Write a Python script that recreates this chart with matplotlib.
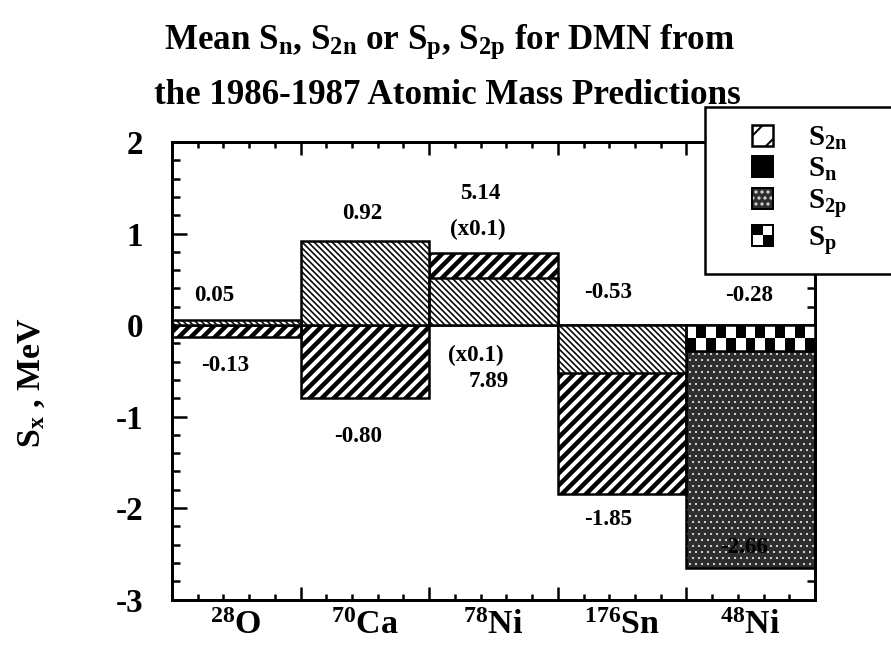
import numpy as np
import matplotlib
matplotlib.use('Agg')
import matplotlib.pyplot as plt
from matplotlib.patches import Rectangle
from matplotlib.legend_handler import HandlerBase

# data (MeV)
nuclides = ['$^{28}$O', '$^{70}$Ca', '$^{78}$Ni', '$^{176}$Sn', '$^{48}$Ni']
single = [0.05, 0.92, 0.514, -0.53, -0.28]    # S_n  (S_p for 48Ni)
double = [-0.13, -0.80, 0.789, -1.85, -2.66]  # S_2n (S_2p for 48Ni)
proton_rich = [False, False, False, False, True]

# value labels written on the chart
labels = ['0.05', '-0.13', '0.92', '-0.80', '5.14', '(x0.1)', '(x0.1)', '7.89',
          '-0.53', '-1.85', '-0.28', '-2.66']
label_x = [0.33, 0.41, 1.48, 1.45, 2.40, 2.38, 2.36, 2.46, 3.39, 3.39, 4.49, 4.45]
label_y = [0.32, -0.44, 1.22, -1.22, 1.44, 1.04, -0.33, -0.62, 0.35, -2.13, 0.32, -2.43]

plt.rcParams['font.family'] = ['Liberation Serif', 'DejaVu Serif']
plt.rcParams['font.weight'] = 'bold'
plt.rcParams['axes.labelweight'] = 'bold'
plt.rcParams['mathtext.fontset'] = 'custom'
plt.rcParams['mathtext.rm'] = 'Liberation Serif:bold'
plt.rcParams['mathtext.it'] = 'Liberation Serif:bold'
plt.rcParams['mathtext.bf'] = 'Liberation Serif:bold'
plt.rcParams['hatch.linewidth'] = 2.0

DPI = 72
fig = plt.figure(figsize=(891 / DPI, 652 / DPI), dpi=DPI)
ax = fig.add_axes([172 / 891, 1 - 599.5 / 652, (815 - 172) / 891, (599.5 - 142) / 652])

x = np.arange(len(nuclides))

S2N = dict(facecolor='white', edgecolor='black', hatch='//', hlw=4.5)
SN = dict(facecolor='white', edgecolor='black', hatch='\\\\\\\\', hlw=1.6)
S2P = dict(facecolor='#2e2e2e', edgecolor='#d8d8d8', hatch='..', hlw=1.0)
SP = dict(facecolor='white', edgecolor='black', hatch='', hlw=1.0)


def draw(xpos, val, st, z):
    b = ax.bar(xpos, val, width=1.0, align='edge', facecolor=st['facecolor'],
               edgecolor=st['edgecolor'], hatch=st['hatch'], linewidth=0, zorder=z)
    for p in b:
        if hasattr(p, 'set_hatch_linewidth'):
            p.set_hatch_linewidth(st['hlw'])
    ax.bar(xpos, val, width=1.0, align='edge', fill=False, edgecolor='black',
           linewidth=2.5, zorder=z + 0.5)
    return b


for i in x:
    if proton_rich[i]:
        draw(i, double[i], S2P, 2)
        bp = draw(i, single[i], SP, 3)
        r = bp[0]
        x0, y0, w, h = r.get_x(), r.get_y(), r.get_width(), r.get_height()
        checker = np.indices((2, 13)).sum(axis=0) % 2
        im = ax.imshow(checker, cmap='gray', extent=(x0, x0 + w, y0, y0 + h),
                       aspect='auto', interpolation='nearest', zorder=3.2)
        im.set_clip_path(r)
    else:
        draw(i, double[i], S2N, 2)
        draw(i, single[i], SN, 3)

for t, lx, ly in zip(labels, label_x, label_y):
    ax.text(lx, ly, t, ha='center', va='center', fontsize=23, fontweight='bold',
            zorder=6, color='black')

ax.set_xlim(0, 5)
ax.set_ylim(-3, 2)
ax.set_xticks(np.arange(0, 6))
ax.set_xticklabels([])
ax.set_xticks(np.arange(0, 5.01, 0.2), minor=True)
ax.set_yticks(np.arange(-3, 3))
ax.set_yticklabels(['-3', '-2', '-1', '0', '1', '2'])
ax.set_yticks(np.arange(-3, 2.01, 0.2), minor=True)
ax.tick_params(which='both', direction='in', top=True, right=True, width=2.5)
ax.tick_params(axis='y', which='major', length=15, labelsize=33, pad=29)
ax.tick_params(axis='y', which='minor', length=8)
ax.tick_params(axis='x', which='major', length=13)
ax.tick_params(axis='x', which='minor', length=6)
for s in ax.spines.values():
    s.set_linewidth(3)

sec = ax.secondary_xaxis('bottom')
sec.set_xticks(x + 0.5, nuclides)
sec.tick_params(length=0, labelsize=34, pad=10)
sec.spines['bottom'].set_visible(False)

ax.set_ylabel('S$_\\mathrm{x}$ , MeV', fontsize=34)
ax.yaxis.set_label_coords(-0.195, 0.475)

fig.text(0.505, 1 - 42 / 652, 'Mean S$_\\mathrm{n}$, S$_\\mathrm{2n}$ or S$_\\mathrm{p}$, '
         'S$_\\mathrm{2p}$ for DMN from', ha='center', va='center', fontsize=35)
fig.text(0.502, 1 - 96 / 652, 'the 1986-1987 Atomic Mass Predictions',
         ha='center', va='center', fontsize=35)


class SquareHandler(HandlerBase):
    # small square drawn at the right end of the handle box
    def __init__(self, kind):
        super().__init__()
        self.kind = kind

    def create_artists(self, legend, orig_handle, xdescent, ydescent, width, height,
                       fontsize, trans):
        s = height
        x0, y0 = -xdescent + width - s, -ydescent
        arts = []
        if self.kind == 's2n':
            arts.append(Rectangle((x0, y0), s, s, facecolor='white', edgecolor='black',
                                  hatch='/', lw=2.5, transform=trans))
        elif self.kind == 'sn':
            arts.append(Rectangle((x0, y0), s, s, facecolor='black', edgecolor='black',
                                  lw=2, transform=trans))
        elif self.kind == 's2p':
            arts.append(Rectangle((x0, y0), s, s, facecolor='#2e2e2e', edgecolor='#d8d8d8',
                                  hatch='..', lw=0, transform=trans))
            arts.append(Rectangle((x0, y0), s, s, fill=False, edgecolor='black',
                                  lw=2, transform=trans))
        else:
            arts.append(Rectangle((x0, y0), s, s, facecolor='white', edgecolor='black',
                                  lw=2, transform=trans))
            for i, j in [(0, 1), (1, 0)]:
                arts.append(Rectangle((x0 + i * s / 2, y0 + j * s / 2), s / 2, s / 2,
                                      facecolor='black', lw=0, transform=trans))
        return arts


kinds = ['s2n', 'sn', 's2p', 'sp']
handles = [Rectangle((0, 0), 1, 1) for _ in kinds]
leg = fig.legend(handles,
                 ['S$_\\mathrm{2n}$', 'S$_\\mathrm{n}$', 'S$_\\mathrm{2p}$', 'S$_\\mathrm{p}$'],
                 loc='upper left', bbox_to_anchor=(705 / 891, 1 - 114 / 652, 0.3, 0.01),
                 mode='expand', borderaxespad=0, fontsize=29, handlelength=1.75,
                 handleheight=0.72, handletextpad=1.2, labelspacing=0.13, borderpad=0.6,
                 fancybox=False, framealpha=1, edgecolor='black',
                 handler_map={h: SquareHandler(k) for h, k in zip(handles, kinds)})
leg.get_frame().set_linewidth(2.5)
leg.set_zorder(10)

fig.savefig('out.png', dpi=DPI)
